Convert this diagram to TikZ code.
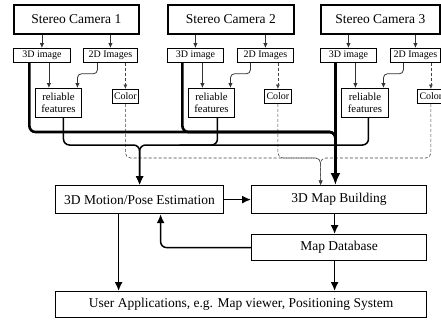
\documentclass[tikz,border=0pt]{standalone}
\usepackage{fontspec}
\setmainfont{Liberation Serif}
\usetikzlibrary{arrows.meta,calc}
\begin{document}
\begin{tikzpicture}[x=1pt,y=-1pt,
  cambox/.style={draw, line width=1.6pt, inner sep=0pt, anchor=north west, minimum height=29pt, font=\fontsize{13.5}{16}\selectfont},
  subbox/.style={draw, line width=0.8pt, inner sep=0pt, anchor=north west, minimum height=14pt, font=\fontsize{10}{12}\selectfont},
  rfbox/.style={draw, line width=0.9pt, inner sep=0pt, anchor=north west, minimum height=29pt, minimum width=46pt, align=center, font=\fontsize{10.8}{12.5}\selectfont},
  botbox/.style={draw, line width=1.2pt, inner sep=0pt, anchor=north west, font=\fontsize{13.5}{16}\selectfont},
  thinarr/.style={line width=0.8pt, draw=black!80, -{Latex[length=5pt,width=4.5pt]}},
  dsh/.style={line width=0.6pt, draw=black!75, densely dashed, -{Latex[length=4.5pt,width=4pt]}},
  thk/.style={line width=2.6pt},
  med/.style={line width=1.5pt},
  medarr/.style={line width=1.5pt, -{Latex[length=9pt,width=8pt]}},
  bigarr/.style={line width=2.6pt, -{Latex[length=12pt,width=10pt]}}
]
\useasboundingbox (0,0) rectangle (441,327);
% cameras
\node[cambox, minimum width=125pt] (cam1) at (13,4) {Stereo Camera 1};
\node[cambox, minimum width=126pt] (cam2) at (167,4) {Stereo Camera 2};
\node[cambox, minimum width=119pt] (cam3) at (320,4) {Stereo Camera 3};
% sub boxes
\node[subbox, minimum width=57pt] (td1) at (13,48) {3D image};
\node[subbox, minimum width=54pt] (dd1) at (83,48) {2D Images};
\node[rfbox] (rf1) at (35,88) {reliable\\features};
\node[subbox, minimum width=26pt] (co1) at (112,89) {Color};
\node[subbox, minimum width=56pt] (td2) at (167,48) {3D image};
\node[subbox, minimum width=56pt] (dd2) at (237,48) {2D Images};
\node[rfbox] (rf2) at (188,88) {reliable\\features};
\node[subbox, minimum width=27pt] (co2) at (264,89) {Color};
\node[subbox, minimum width=56pt] (td3) at (320,48) {3D image};
\node[subbox, minimum width=50pt] (dd3) at (390,48) {2D Images};
\node[rfbox, minimum width=47pt] (rf3) at (341,88) {reliable\\features};
\node[subbox, minimum width=27pt] (co3) at (417,89) {Color};
% bottom boxes
\node[botbox, minimum width=168pt, minimum height=28pt] (mo) at (55,185) {3D Motion/Pose Estimation};
\node[botbox, minimum width=175pt, minimum height=28pt] (mb) at (251,185) {3D Map Building};
\node[botbox, minimum width=175pt, minimum height=26pt] (db) at (251,234) {Map Database};
\node[botbox, minimum width=371pt, minimum height=26pt] (ua) at (55,291) {User Applications, e.g. Map viewer, Positioning System};
% bus coordinates
\coordinate (thickbus) at (0,132);
\coordinate (rfbus) at (0,145);
\coordinate (colbus) at (0,158);
\coordinate (t3) at ([xshift=-13pt]td3.south);
\coordinate (dsx) at ([xshift=-18.5pt]mb.north);
% camera -> sub boxes
\foreach \i in {1,2,3}{
  \draw[thinarr] (td\i.north |- cam\i.south) -- (td\i.north);
  \draw[thinarr] (dd\i.north |- cam\i.south) -- (dd\i.north);
  \draw[thinarr] ([xshift=7pt]td\i.south) -- ([xshift=7pt]td\i.south |- rf\i.north);
  \draw[dsh] (co\i.north |- dd\i.south) -- (co\i.north);
}
\draw[thinarr, rounded corners=4] ([xshift=-13pt]dd1.south) -- ++(0,11) -| ([xshift=19pt]rf1.north);
\draw[thinarr, rounded corners=4] ([xshift=-15pt]dd2.south) -- ++(0,11) -| ([xshift=19pt]rf2.north);
\draw[thinarr, rounded corners=4] ([xshift=-12pt]dd3.south) -- ++(0,11) -| ([xshift=18.5pt]rf3.north);
% dashed color lines
\draw[dsh, rounded corners=5] (co1.south) |- (colbus -| dsx) -- (dsx |- mb.north);
\draw[dsh, rounded corners=5] (co2.south) |- (colbus -| dsx) -- (dsx |- mb.north);
\draw[dsh, rounded corners=5] (co3.south) |- (colbus -| dsx) -- (dsx |- mb.north);
% thick 3D image lines
\draw[thk, rounded corners=6] ([xshift=-12.5pt]td1.south) |- (thickbus -| t3) -- (t3 |- colbus);
\draw[thk, rounded corners=6] ([xshift=-13pt]td2.south) |- (thickbus -| t3) -- (t3 |- colbus);
\draw[bigarr] (t3) -- (t3 |- mb.north);
% reliable features lines
\draw[medarr, rounded corners=6] ([xshift=5pt]rf1.south) |- (rfbus -| mo.north) -- (mo.north);
\draw[medarr, rounded corners=6] ([xshift=6pt]rf2.south) |- (rfbus -| mo.north) -- (mo.north);
\draw[med, rounded corners=6] ([xshift=3.5pt]rf3.south) |- ($(rfbus -| mo.north)+(40,0)$);
% bottom connectors
\draw[medarr] (mo.east) -- (mb.west);
\draw[medarr] ([xshift=-4.5pt]mb.south) -- ([xshift=-4.5pt]db.north);
\draw[medarr] ([xshift=-4.5pt]db.south) -- ([xshift=-4.5pt]db.south |- ua.north);
\draw[medarr, rounded corners=6] (db.west) -| ([xshift=21pt]mo.south);
\draw[medarr] ([xshift=-21pt]mo.south) -- ([xshift=-21pt]mo.south |- ua.north);
\end{tikzpicture}
\end{document}
